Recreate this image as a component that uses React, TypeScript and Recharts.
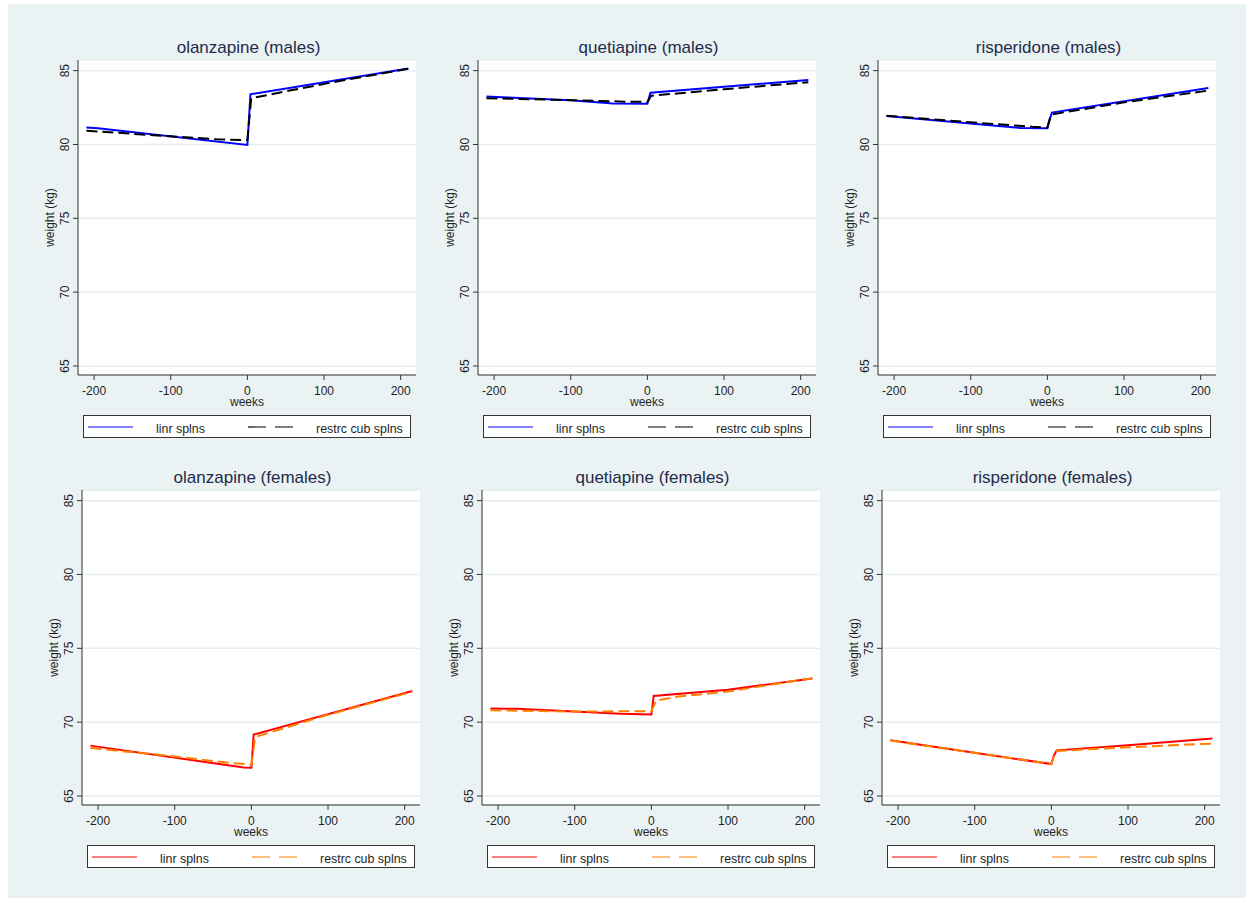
import React from "react";
import { LineChart, Line, XAxis, YAxis, CartesianGrid } from "recharts";

const FONT = '"Liberation Sans", Arial, Helvetica, sans-serif';
const BG = "#eaf2f3";
const AXIS = "#333333";
const INK = "#1f1f1f";

const weekTicks = [-200, -100, 0, 100, 200];
const kgTicks = [65, 70, 75, 80, 85];

// olanzapine, males
const olzMLinW = [-210, -195, 0, 4, 210];
const olzMLinKg = [81.15, 81.1, 79.97, 83.4, 85.15];
const olzMRcsW = [-210, -100, -40, 0, 5, 60, 120, 210];
const olzMRcsKg = [80.93, 80.55, 80.35, 80.3, 83.13, 83.7, 84.3, 85.12];

// quetiapine, males
const qtpMLinW = [-210, -190, -100, -45, 0, 4, 210];
const qtpMLinKg = [83.24, 83.2, 83.0, 82.78, 82.75, 83.5, 84.37];
const qtpMRcsW = [-210, -100, -30, 0, 5, 100, 210];
const qtpMRcsKg = [83.13, 83.0, 82.9, 82.88, 83.3, 83.74, 84.22];

// risperidone, males
const rspMLinW = [-210, -35, 0, 3, 6, 210];
const rspMLinKg = [81.93, 81.12, 81.1, 81.7, 82.16, 83.82];
const rspMRcsW = [-210, -100, -20, 0, 3, 7, 100, 210];
const rspMRcsKg = [81.95, 81.5, 81.2, 81.15, 81.7, 82.05, 82.85, 83.65];

// olanzapine, females
const olzFLinW = [-210, -10, 0, 3, 210];
const olzFLinKg = [68.41, 66.93, 66.91, 69.16, 72.11];
const olzFRcsW = [-210, -100, -30, 0, 5, 100, 210];
const olzFRcsKg = [68.25, 67.68, 67.25, 67.12, 69.0, 70.5, 72.06];

// quetiapine, females
const qtpFLinW = [-210, -175, -40, 0, 3, 100, 210];
const qtpFLinKg = [70.93, 70.9, 70.57, 70.52, 71.77, 72.2, 72.96];
const qtpFRcsW = [-210, -100, 0, 6, 35, 100, 210];
const qtpFRcsKg = [70.8, 70.72, 70.74, 71.45, 71.73, 72.07, 72.98];

// risperidone, females
const rspFLinW = [-210, 0, 3, 7, 100, 210];
const rspFLinKg = [68.77, 67.16, 67.7, 68.09, 68.43, 68.89];
const rspFRcsW = [-210, 0, 3, 7, 100, 210];
const rspFRcsKg = [68.75, 67.17, 67.65, 68.05, 68.3, 68.55];

const toPoints = (w: number[], kg: number[]) =>
  w.map((week, i) => ({ week, kg: kg[i] }));

const PLOT_W = 338;
const PLOT_H = 315;
const M_LEFT = 14;
const Y_W = 56;
const M_TOP = 10;

function KgTick(props: any) {
  const { x, y, payload } = props;
  return (
    <text
      x={x}
      y={y}
      transform={`rotate(-90, ${x}, ${y})`}
      textAnchor="middle"
      fill={INK}
      fontSize={12}
      fontFamily={FONT}
    >
      {payload.value}
    </text>
  );
}

interface PanelProps {
  title: string;
  plotLeft: number;
  plotTop: number;
  lin: { week: number; kg: number }[];
  rcs: { week: number; kg: number }[];
  linColor: string;
  rcsColor: string;
}

function Panel({ title, plotLeft, plotTop, lin, rcs, linColor, rcsColor }: PanelProps) {
  const chartLeft = plotLeft - M_LEFT - Y_W;
  const chartTop = plotTop - M_TOP;
  return (
    <>
      <div
        style={{
          position: "absolute",
          left: plotLeft,
          top: plotTop - 7 - 14.4,
          width: PLOT_W + 3,
          textAlign: "center",
          fontFamily: FONT,
          fontSize: 17,
          lineHeight: "17px",
          color: "#1e2c4c",
          whiteSpace: "nowrap",
        }}
      >
        {title}
      </div>
      <div style={{ position: "absolute", left: chartLeft, top: chartTop }}>
        <LineChart
          width={M_LEFT + Y_W + PLOT_W + 10}
          height={M_TOP + PLOT_H + 31 + 5}
          margin={{ top: M_TOP, right: 10, bottom: 5, left: M_LEFT }}
        >
          <CartesianGrid
            vertical={false}
            fill="#ffffff"
            fillOpacity={1}
            stroke="#e4edef"
            strokeWidth={1.5}
          />
          <XAxis
            type="number"
            dataKey="week"
            domain={[-221, 220]}
            ticks={weekTicks}
            allowDataOverflow
            height={31}
            tickSize={5}
            tickMargin={6}
            stroke={AXIS}
            tick={{ fill: INK, fontSize: 12, fontFamily: FONT }}
            label={{
              value: "weeks",
              position: "insideBottom",
              offset: 0,
              fill: INK,
              fontSize: 12,
              fontFamily: FONT,
            }}
          />
          <YAxis
            type="number"
            domain={[64.39, 85.72]}
            ticks={kgTicks}
            allowDataOverflow
            width={Y_W}
            tickSize={5}
            tickMargin={4}
            stroke={AXIS}
            tick={<KgTick />}
            label={{
              value: "weight (kg)",
              angle: -90,
              position: "center",
              fill: INK,
              fontSize: 12,
              fontFamily: FONT,
            }}
          />
          <Line
            data={lin}
            dataKey="kg"
            type="linear"
            stroke={linColor}
            strokeWidth={2}
            dot={false}
            activeDot={false}
            isAnimationActive={false}
          />
          <Line
            data={rcs}
            dataKey="kg"
            type="linear"
            stroke={rcsColor}
            strokeWidth={2}
            strokeDasharray="11 5"
            dot={false}
            activeDot={false}
            isAnimationActive={false}
          />
        </LineChart>
      </div>
      <div
        style={{
          position: "absolute",
          left: plotLeft + 5,
          top: plotTop + 355,
          width: 328,
          height: 23,
          boxSizing: "border-box",
          border: `1px solid ${AXIS}`,
          background: "#ffffff",
        }}
      >
        <svg width={326} height={21} style={{ display: "block" }}>
          <line x1={4} x2={49} y1={11} y2={11} stroke={linColor} strokeWidth={1.2} />
          <text x={72} y={16.5} fontFamily={FONT} fontSize={12.4} fill={INK}>
            linr splns
          </text>
          <line
            x1={164}
            x2={209}
            y1={11}
            y2={11}
            stroke={rcsColor}
            strokeWidth={1.2}
            strokeDasharray="18 9"
          />
          <text x={232} y={16.5} fontFamily={FONT} fontSize={12.4} fill={INK}>
            restrc cub splns
          </text>
        </svg>
      </div>
    </>
  );
}

export default function App() {
  const topRow = 60;
  const bottomRow = 490;
  return (
    <div
      style={{
        position: "absolute",
        left: 0,
        top: 0,
        width: 1254,
        height: 902,
        background: "#ffffff",
        overflow: "hidden",
      }}
    >
      <div
        style={{
          position: "absolute",
          left: 8,
          top: 4,
          width: 1238,
          height: 894,
          background: BG,
        }}
      />
      <Panel
        title="olanzapine (males)"
        plotLeft={78}
        plotTop={topRow}
        lin={toPoints(olzMLinW, olzMLinKg)}
        rcs={toPoints(olzMRcsW, olzMRcsKg)}
        linColor="#0000ff"
        rcsColor="#000000"
      />
      <Panel
        title="quetiapine (males)"
        plotLeft={478}
        plotTop={topRow}
        lin={toPoints(qtpMLinW, qtpMLinKg)}
        rcs={toPoints(qtpMRcsW, qtpMRcsKg)}
        linColor="#0000ff"
        rcsColor="#000000"
      />
      <Panel
        title="risperidone (males)"
        plotLeft={878}
        plotTop={topRow}
        lin={toPoints(rspMLinW, rspMLinKg)}
        rcs={toPoints(rspMRcsW, rspMRcsKg)}
        linColor="#0000ff"
        rcsColor="#000000"
      />
      <Panel
        title="olanzapine (females)"
        plotLeft={82}
        plotTop={bottomRow}
        lin={toPoints(olzFLinW, olzFLinKg)}
        rcs={toPoints(olzFRcsW, olzFRcsKg)}
        linColor="#ff0000"
        rcsColor="#ff8000"
      />
      <Panel
        title="quetiapine (females)"
        plotLeft={482}
        plotTop={bottomRow}
        lin={toPoints(qtpFLinW, qtpFLinKg)}
        rcs={toPoints(qtpFRcsW, qtpFRcsKg)}
        linColor="#ff0000"
        rcsColor="#ff8000"
      />
      <Panel
        title="risperidone (females)"
        plotLeft={882}
        plotTop={bottomRow}
        lin={toPoints(rspFLinW, rspFLinKg)}
        rcs={toPoints(rspFRcsW, rspFRcsKg)}
        linColor="#ff0000"
        rcsColor="#ff8000"
      />
    </div>
  );
}
